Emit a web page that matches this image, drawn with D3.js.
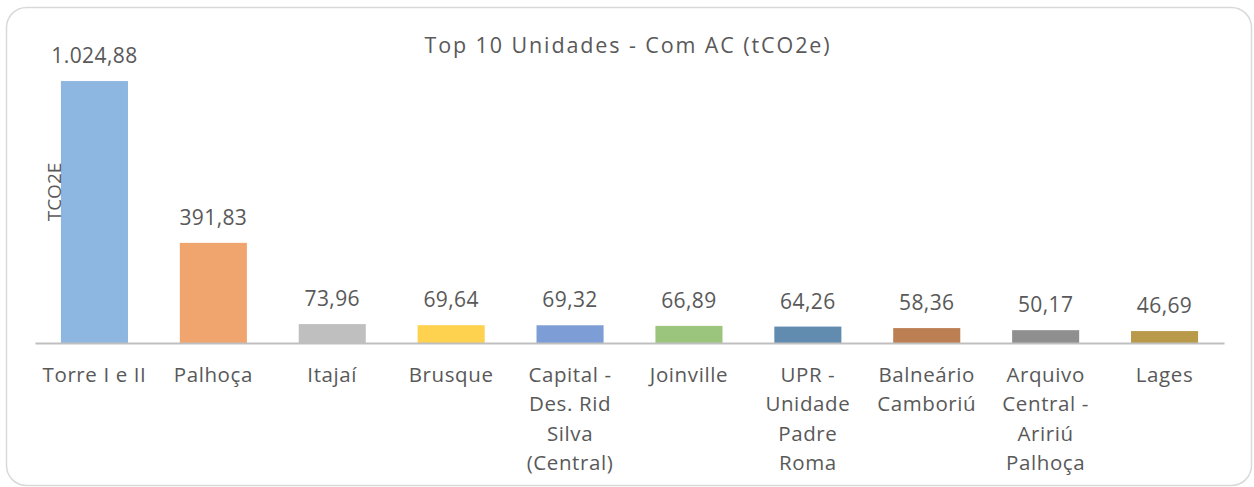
<!DOCTYPE html>
<html>
<head>
<meta charset="utf-8">
<script src="https://cdn.jsdelivr.net/npm/d3@7"></script>
<style>
  html, body { margin: 0; padding: 0; background: #fff; }
  svg { display: block; }
  text { font-family: "Open Sans", "Noto Sans", sans-serif; fill: #595959; }
</style>
</head>
<body>
<svg id="chart" width="1254" height="487"></svg>
<script>
const categories = ["Torre I e II", "Palhoça", "Itajaí", "Brusque", "Capital - Des. Rid Silva (Central)", "Joinville", "UPR - Unidade Padre Roma", "Balneário Camboriú", "Arquivo Central - Aririú Palhoça", "Lages"];
const values = [1024.88, 391.83, 73.96, 69.64, 69.32, 66.89, 64.26, 58.36, 50.17, 46.69];
const colors = ["#8DB7E1", "#F0A56E", "#BFBFBF", "#FED14E", "#7C9DD5", "#9BC47C", "#618BAF", "#BC7E53", "#8F8F8F", "#B99A4B"];
const title = "Top 10 Unidades - Com AC (tCO2e)";
const yTitle = "TCO2E";

const svg = d3.select("#chart");

svg.append("rect")
  .attr("x", 6.5).attr("y", 7.5)
  .attr("width", 1245).attr("height", 478)
  .attr("rx", 20).attr("ry", 20)
  .attr("fill", "#fff")
  .attr("stroke", "#D9D9D9").attr("stroke-width", 1.5);

const x = d3.scaleBand().domain(categories).range([35, 1224]).paddingInner(0.436).paddingOuter(0.218);
const y = d3.scaleLinear().domain([0, 1200]).range([343, 36.3]);

const fmt = v => {
  const s = v.toFixed(2).split(".");
  const intPart = s[0].replace(/\B(?=(\d{3})+(?!\d))/g, ".");
  return intPart + "," + s[1];
};

svg.append("text")
  .attr("x", 628).attr("y", 53)
  .attr("text-anchor", "middle")
  .attr("font-size", 21.5)
  .style("letter-spacing", "1.9px")
  .text(title);

svg.append("g").selectAll("rect")
  .data(values)
  .join("rect")
  .attr("x", (d, i) => x(categories[i]))
  .attr("width", x.bandwidth())
  .attr("y", d => y(d))
  .attr("height", d => y(0) - y(d))
  .attr("fill", (d, i) => colors[i]);

const axis = svg.append("g").attr("transform", `translate(0,${y(0)})`)
  .call(d3.axisBottom(x).tickSize(0).tickFormat(""));
axis.select(".domain").attr("stroke", "#BFBFBF").attr("stroke-width", 2.2);

svg.append("g").selectAll("text")
  .data(values)
  .join("text")
  .attr("x", (d, i) => x(categories[i]) + x.bandwidth() / 2)
  .attr("y", d => y(d) - 18)
  .attr("text-anchor", "middle")
  .attr("font-size", 21)
  .style("letter-spacing", "0.4px")
  .text(d => fmt(d));

const maxW = 110;
const labelG = svg.append("g");
categories.forEach(c => {
  const cx = x(c) + x.bandwidth() / 2;
  const t = labelG.append("text")
    .attr("x", cx).attr("y", 382)
    .attr("text-anchor", "middle")
    .attr("font-size", 20.5)
    .style("letter-spacing", "0.6px");
  const words = c.split(" ");
  let line = [];
  let tspan = t.append("tspan").attr("x", cx).attr("dy", 0);
  words.forEach(w => {
    line.push(w);
    tspan.text(line.join(" "));
    if (tspan.node().getComputedTextLength() > maxW && line.length > 1) {
      line.pop();
      tspan.text(line.join(" "));
      line = [w];
      tspan = t.append("tspan").attr("x", cx).attr("dy", 29.3).text(w);
    }
  });
});

svg.append("text")
  .attr("transform", "translate(61,192) rotate(-90)")
  .attr("text-anchor", "middle")
  .attr("font-size", 19)
  .text(yTitle);
</script>
</body>
</html>
